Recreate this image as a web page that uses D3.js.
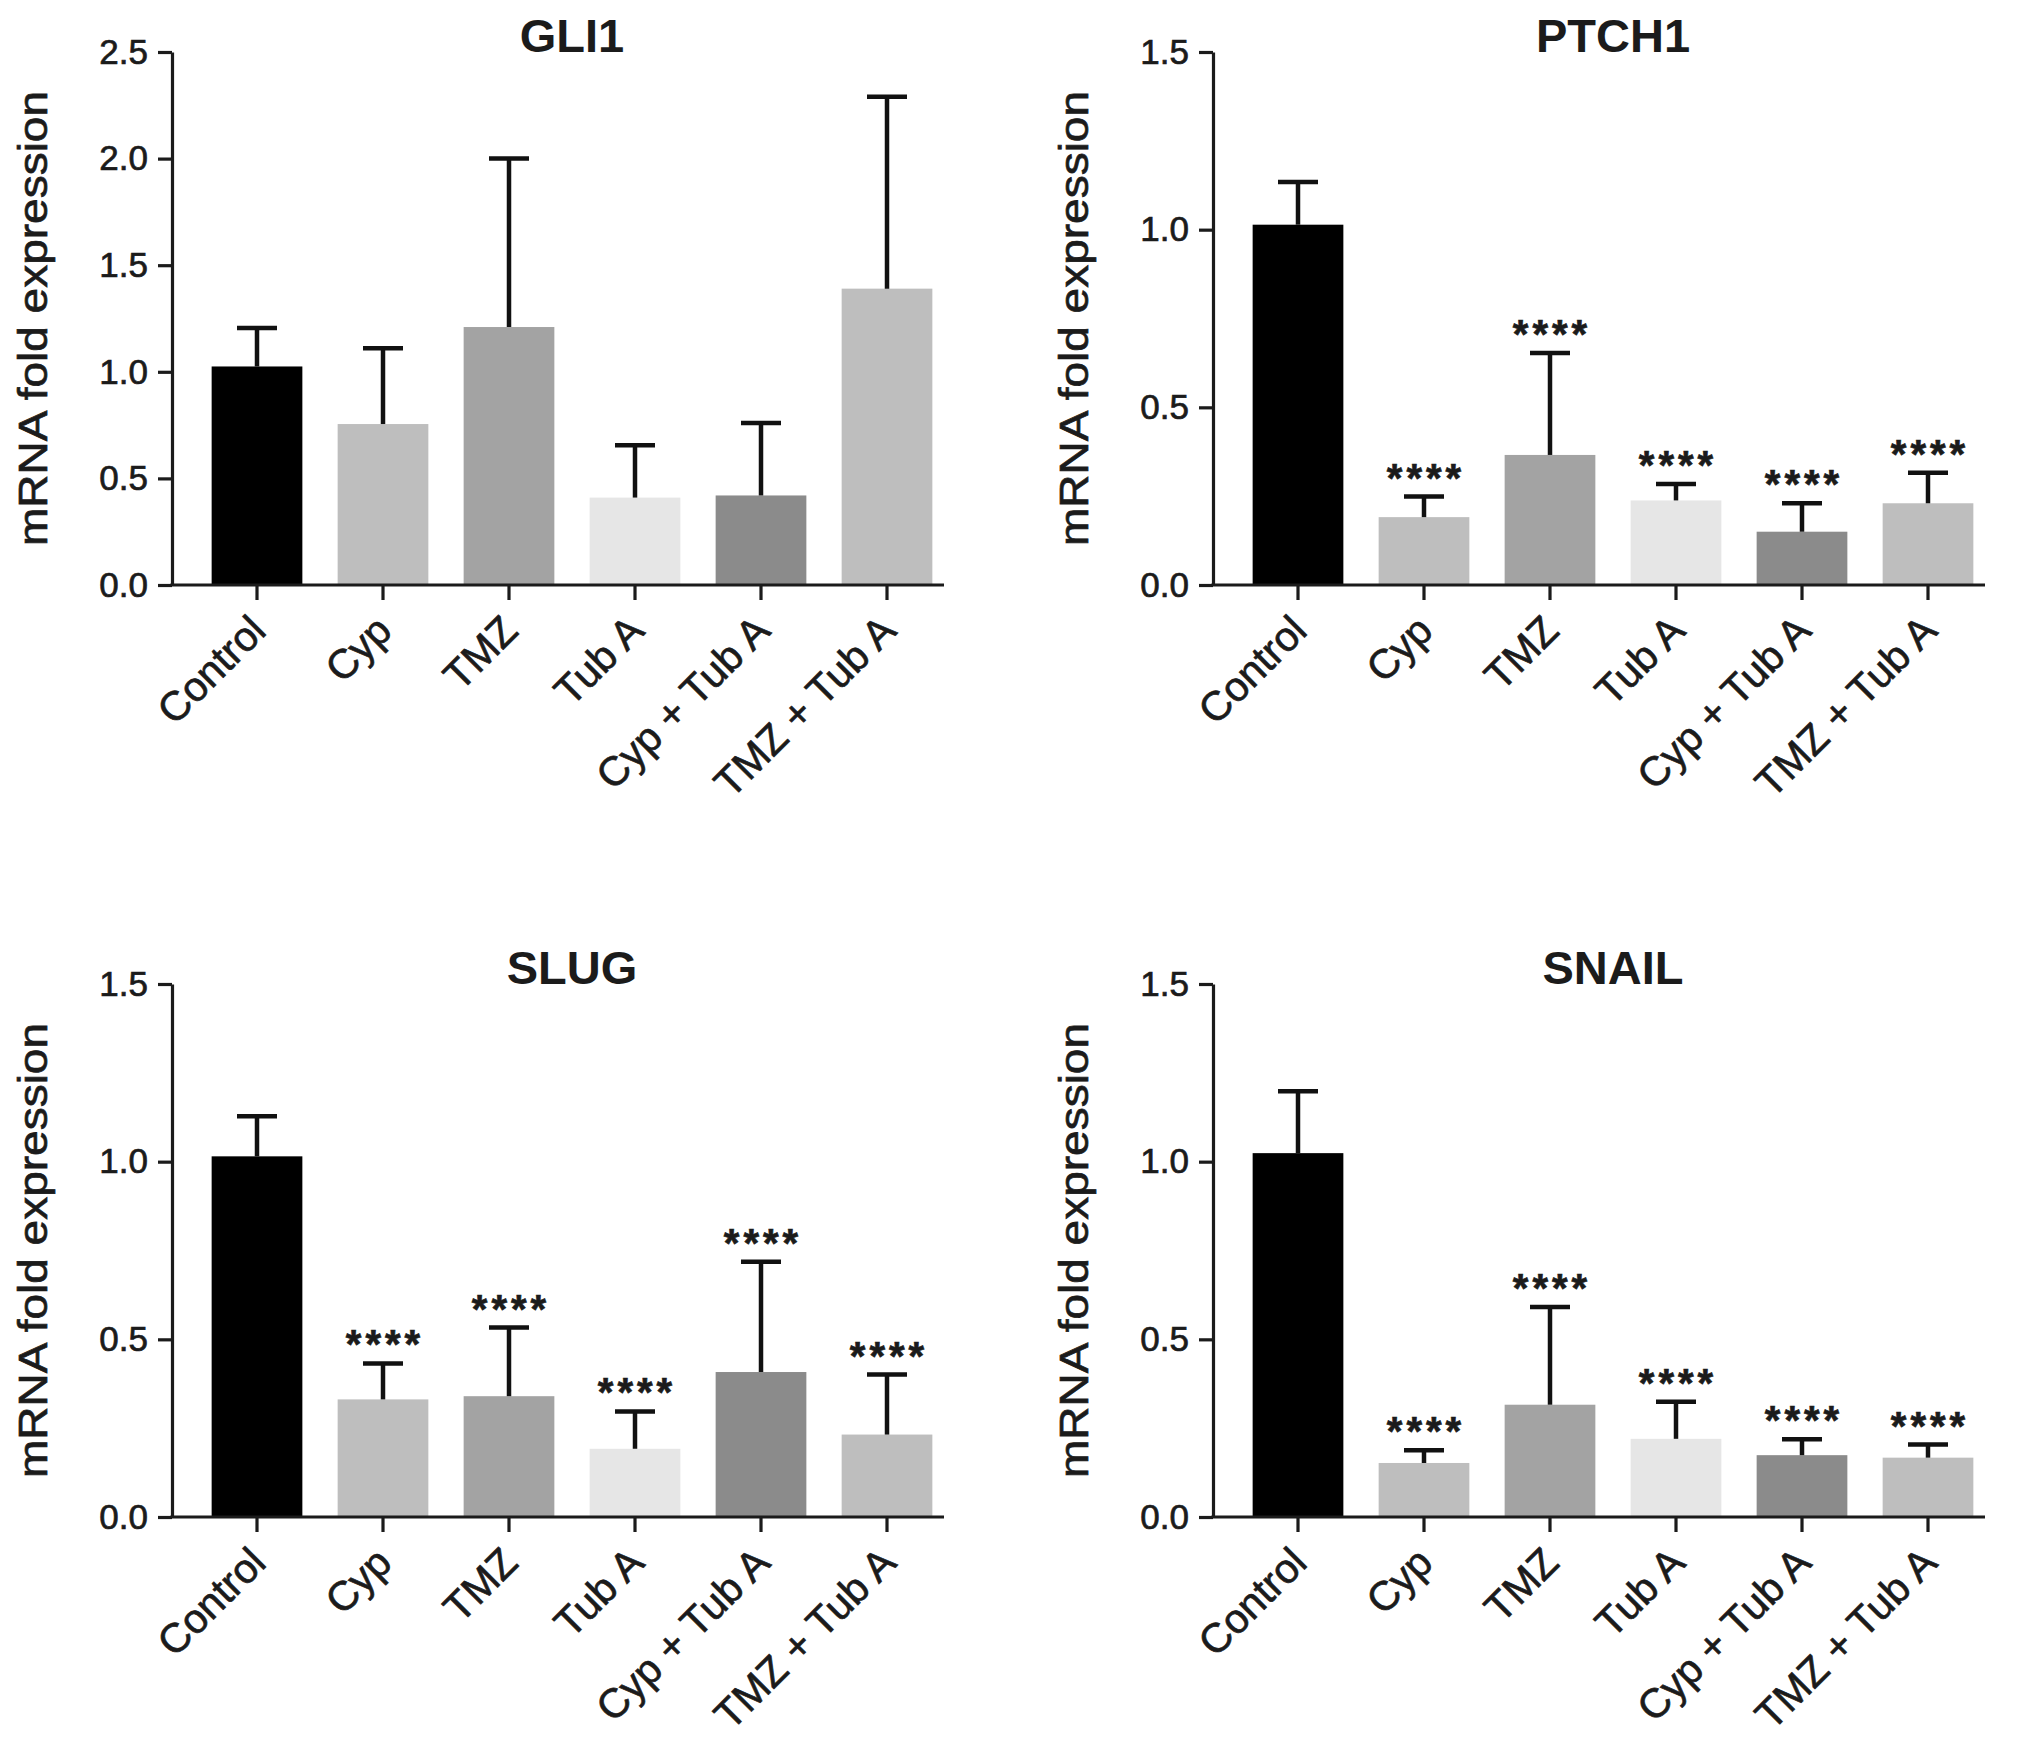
<!DOCTYPE html>
<html>
<head>
<meta charset="utf-8">
<script src="https://cdn.jsdelivr.net/npm/d3@7"></script>
<style>
  body { margin: 0; background: #fff; }
  svg text { font-family: "Liberation Sans", Arial, sans-serif; fill: #1b1b1b; stroke: #1b1b1b; stroke-width: 0.7px; }
</style>
</head>
<body>
<script>
// treatment groups (x axis)
var categories = ["Control", "Cyp", "TMZ", "Tub A", "Cyp + Tub A", "TMZ + Tub A"];

// mean fold expression and upper SD per gene
var gli1Mean  = [1.025, 0.755, 1.21, 0.41, 0.42, 1.39];
var gli1Sd    = [0.18, 0.355, 0.79, 0.245, 0.34, 0.90];
var ptch1Mean = [1.014, 0.191, 0.366, 0.238, 0.150, 0.230];
var ptch1Sd   = [0.12, 0.058, 0.287, 0.046, 0.08, 0.086];
var slugMean  = [1.015, 0.331, 0.340, 0.192, 0.408, 0.232];
var slugSd    = [0.113, 0.101, 0.193, 0.105, 0.31, 0.169];
var snailMean = [1.024, 0.152, 0.316, 0.220, 0.174, 0.167];
var snailSd   = [0.174, 0.036, 0.275, 0.104, 0.045, 0.037];

// significance marks vs control
var noSig   = ["", "", "", "", "", ""];
var fourSig = ["", "****", "****", "****", "****", "****"];

// y axis ticks
var ticksTall  = [0, 0.5, 1.0, 1.5, 2.0, 2.5];
var ticksShort = [0, 0.5, 1.0, 1.5];

var yTitle = "mRNA fold expression";

// bar fills, one per group
var barColors = ["#000000", "#bebebe", "#a3a3a3", "#e6e6e6", "#8b8b8b", "#bebebe"];

var plotH = 533;

var svg = d3.select("body").append("svg")
    .attr("width", 2031)
    .attr("height", 1744);

svg.append("rect").attr("width", 2031).attr("height", 1744).attr("fill", "#fff");

function drawPanel(title, means, sds, sigs, ticks, left, top) {
    var base = top + plotH;
    var rows = categories.map(function(c, i) {
        return { cat: c, mean: means[i], sd: sds[i], sig: sigs[i], color: barColors[i] };
    });

    var y = d3.scaleLinear()
        .domain([0, ticks[ticks.length - 1]])
        .range([base, top]);

    var x = d3.scaleBand()
        .domain(categories)
        .range([left + 22, left + 778])
        .paddingInner(0.28)
        .paddingOuter(0.14);

    var g = svg.append("g").attr("class", "panel");

    // bars
    g.selectAll("rect.bar")
        .data(rows)
        .enter().append("rect").attr("class", "bar")
        .attr("x", function(d) { return x(d.cat); })
        .attr("width", x.bandwidth())
        .attr("y", function(d) { return y(d.mean); })
        .attr("height", function(d) { return base - y(d.mean); })
        .attr("fill", function(d) { return d.color; });

    // upper error bars
    var eb = g.selectAll("g.err")
        .data(rows)
        .enter().append("g").attr("class", "err")
        .attr("stroke", "#111")
        .attr("stroke-width", 4.5);

    eb.append("line")
        .attr("x1", function(d) { return x(d.cat) + x.bandwidth() / 2; })
        .attr("x2", function(d) { return x(d.cat) + x.bandwidth() / 2; })
        .attr("y1", function(d) { return y(d.mean); })
        .attr("y2", function(d) { return y(d.mean + d.sd); });

    eb.append("line")
        .attr("x1", function(d) { return x(d.cat) + x.bandwidth() / 2 - 20; })
        .attr("x2", function(d) { return x(d.cat) + x.bandwidth() / 2 + 20; })
        .attr("y1", function(d) { return y(d.mean + d.sd); })
        .attr("y2", function(d) { return y(d.mean + d.sd); });

    // stars
    g.selectAll("text.sig")
        .data(rows)
        .enter().append("text").attr("class", "sig")
        .attr("x", function(d) { return x(d.cat) + x.bandwidth() / 2 + 2; })
        .attr("y", function(d) { return y(d.mean + d.sd) - 5; })
        .attr("text-anchor", "middle")
        .attr("font-size", 40)
        .attr("font-weight", "bold")
        .attr("letter-spacing", 4)
        .text(function(d) { return d.sig; });

    // y axis
    var ya = g.append("g")
        .attr("transform", "translate(" + left + ",0)")
        .call(d3.axisLeft(y).tickValues(ticks).tickFormat(d3.format(".1f"))
            .tickSize(14).tickSizeOuter(0).tickPadding(10));
    ya.attr("font-size", 35).attr("font-family", null);
    ya.select(".domain").attr("stroke", "#1b1b1b").attr("stroke-width", 3.2);
    ya.selectAll(".tick line").attr("stroke", "#1b1b1b").attr("stroke-width", 3.2);

    // x axis
    var xa = g.append("g")
        .attr("transform", "translate(0," + base + ")")
        .call(d3.axisBottom(x).tickSize(15).tickSizeOuter(0));
    xa.attr("font-size", 41).attr("font-family", null);
    xa.select(".domain").remove();
    xa.selectAll(".tick line").attr("stroke", "#1b1b1b").attr("stroke-width", 3.2);
    xa.selectAll(".tick text")
        .attr("x", 0).attr("y", 0).attr("dy", 0)
        .attr("text-anchor", "end")
        .attr("transform", "translate(11,48) rotate(-45)");

    xa.append("line")
        .attr("x1", left - 1.6).attr("x2", left + 772)
        .attr("y1", 0).attr("y2", 0)
        .attr("stroke", "#1b1b1b").attr("stroke-width", 3.2);

    // y title
    g.append("text")
        .attr("transform", "translate(" + (left - 125) + "," + (top + plotH / 2) + ") rotate(-90)")
        .attr("text-anchor", "middle")
        .attr("font-size", 40)
        .attr("textLength", 455)
        .attr("lengthAdjust", "spacingAndGlyphs")
        .text(yTitle);

    // panel title
    g.append("text")
        .attr("x", x(categories[0]) + (x(categories[5]) - x(categories[0])) / 2 + x.bandwidth() / 2)
        .attr("y", top)
        .attr("text-anchor", "middle")
        .attr("font-size", 47)
        .attr("font-weight", "bold")
        .style("stroke-width", "0px")
        .text(title);
}

drawPanel("GLI1", gli1Mean, gli1Sd, noSig, ticksTall, 172, 52);
drawPanel("PTCH1", ptch1Mean, ptch1Sd, fourSig, ticksShort, 1213, 52);
drawPanel("SLUG", slugMean, slugSd, fourSig, ticksShort, 172, 984);
drawPanel("SNAIL", snailMean, snailSd, fourSig, ticksShort, 1213, 984);
</script>
</body>
</html>
